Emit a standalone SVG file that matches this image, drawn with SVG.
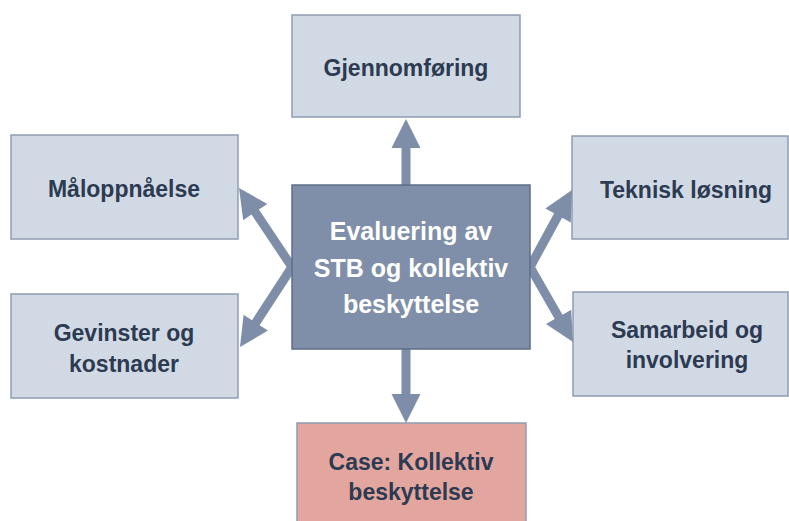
<svg xmlns="http://www.w3.org/2000/svg" width="789" height="521" viewBox="0 0 789 521">
  <style>
    .box { fill: #D1D9E4; stroke: #8E9CB2; stroke-width: 1.5; }
    .case { fill: #E3A69F; stroke: #8E9CB2; stroke-width: 1.5; }
    .hub { fill: #7F8FA9; stroke: #5F6E86; stroke-width: 1.5; }
    .lbl { font-family: "Liberation Sans", Arial, sans-serif; font-weight: bold; font-size: 23px; fill: #2C3A52; text-anchor: middle; }
    .hubl { font-family: "Liberation Sans", Arial, sans-serif; font-weight: bold; font-size: 25px; fill: #FFFFFF; text-anchor: middle; }
    .arrow { fill: #7E8EA8; }
  </style>
  <rect width="789" height="521" fill="#FFFFFF"/>

  <g id="gjennomforing">
    <rect class="box" x="292" y="15" width="228" height="102"/>
    <text class="lbl" x="406" y="76">Gjennomføring</text>
  </g>
  <g id="maloppnaelse">
    <rect class="box" x="11" y="135" width="227" height="104"/>
    <text class="lbl" x="124" y="197">Måloppnåelse</text>
  </g>
  <g id="gevinster">
    <rect class="box" x="11" y="294" width="227" height="104"/>
    <text class="lbl" x="124" y="341">Gevinster og</text>
    <text class="lbl" x="124" y="372">kostnader</text>
  </g>
  <g id="teknisk">
    <rect class="box" x="572" y="136" width="216" height="103"/>
    <text class="lbl" x="686" y="198">Teknisk løsning</text>
  </g>
  <g id="samarbeid">
    <rect class="box" x="573" y="292" width="215" height="104"/>
    <text class="lbl" x="687" y="338">Samarbeid og</text>
    <text class="lbl" x="687" y="368">involvering</text>
  </g>
  <g id="case">
    <rect class="case" x="297" y="423" width="229" height="110"/>
    <text class="lbl" x="411" y="470">Case: Kollektiv</text>
    <text class="lbl" x="411" y="500">beskyttelse</text>
  </g>

  <g id="connectors">
    <polygon class="arrow" points="401.5,186 401.5,148 391.5,148 406,119 420.5,148 410.5,148 410.5,186"/>
    <polygon class="arrow" points="401.5,348 401.5,394 391.5,394 406,423 420.5,394 410.5,394 410.5,348"/>
    <polygon class="arrow" points="295.7,264.5 258.9,209.6 267.3,204.0 239,188 243.2,220.2 251.5,214.6 288.3,269.5"/>
    <polygon class="arrow" points="288.2,264.5 252.0,320.2 243.6,314.8 240,347 268.0,330.6 259.6,325.2 295.8,269.5"/>
    <polygon class="arrow" points="526.1,264.8 554.1,213.3 545.4,208.6 572,190 570.8,222.4 562.1,217.7 534.0,269.2"/>
    <polygon class="arrow" points="533.9,264.8 562.5,314.7 571.2,309.7 573,342 546.0,324.1 554.7,319.1 526.1,269.2"/>
  </g>

  <g id="evaluering">
    <rect class="hub" x="292" y="185" width="238" height="164"/>
    <text class="hubl" x="411" y="240">Evaluering av</text>
    <text class="hubl" x="411" y="277">STB og kollektiv</text>
    <text class="hubl" x="411" y="313">beskyttelse</text>
  </g>
</svg>
